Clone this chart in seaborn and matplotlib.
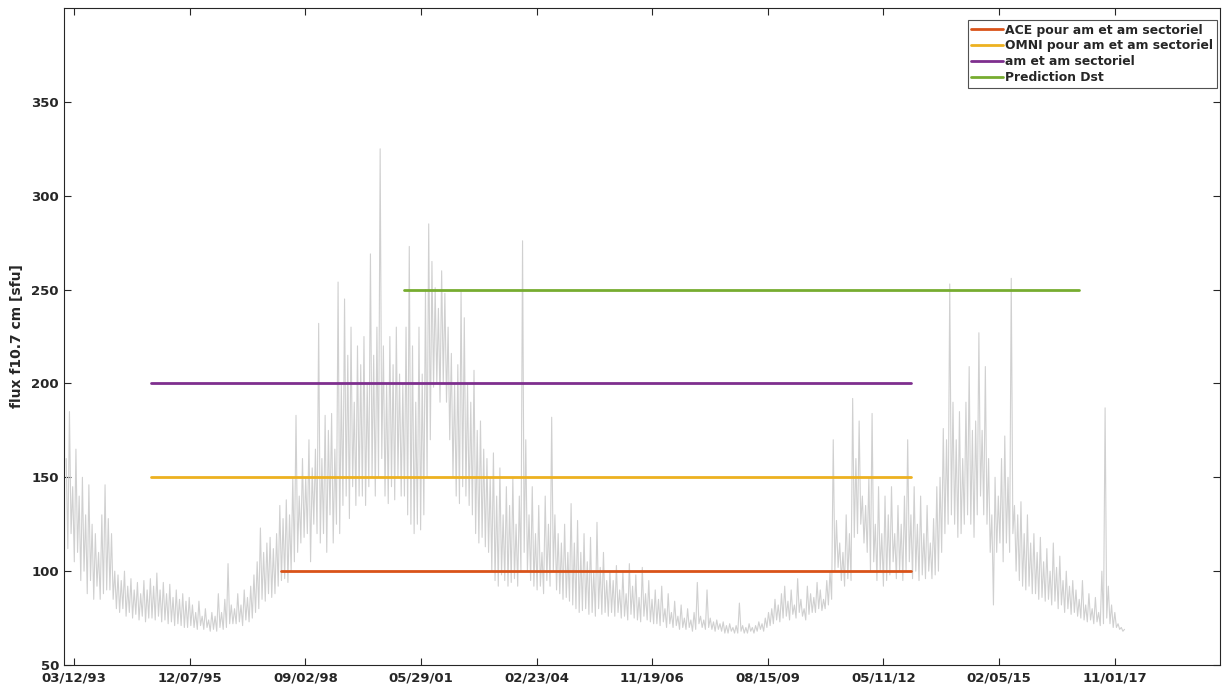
import pandas as pd
import matplotlib
matplotlib.use("Agg")
import matplotlib.pyplot as plt
import seaborn as sns

# === Data ===
# daily f10.7 flux, resampled by eye: one value every 14 days, alternating peaks / troughs
FLUX_START = "1993-01-01"
FLUX_STEP = "14D"
flux = [
    # 1993
    160, 112, 185, 120, 145, 105, 165, 110, 140, 95, 150, 100, 130, 88, 146, 95, 125, 85, 120, 92, 110, 85, 130, 88, 146, 90,
    # 1994
    128, 90, 120, 85, 100, 80, 98, 78, 95, 80, 100, 76, 92, 78, 96, 75, 90, 77, 94, 74, 88, 76, 95, 73, 90, 75,
    # 1995
    96, 75, 92, 74, 99, 76, 90, 73, 94, 74, 88, 72, 93, 73, 86, 71, 90, 72, 85, 71, 88, 70, 84, 70, 86, 71,
    # 1996
    82, 70, 78, 69, 84, 71, 76, 69, 80, 70, 74, 68, 78, 69, 76, 68, 88, 70, 78, 69, 85, 70, 104, 72, 82, 72,
    # 1997
    80, 72, 88, 73, 82, 71, 90, 74, 86, 73, 92, 75, 98, 78, 105, 80, 123, 85, 110, 84, 115, 88, 118, 86, 112, 88,
    # 1998
    120, 92, 135, 95, 128, 96, 138, 94, 130, 100, 150, 105, 183, 110, 140, 115, 160, 118, 150, 120, 170, 105, 155, 125, 165, 120,
    # 1999
    232, 115, 160, 120, 183, 110, 175, 130, 184, 115, 165, 125, 254, 120, 200, 135, 245, 140, 215, 128, 230, 145, 190, 135, 220, 140,
    # 2000
    210, 140, 225, 135, 200, 145, 269, 150, 215, 140, 230, 150, 325, 160, 220, 140, 200, 136, 225, 145, 210, 138, 230, 150, 205, 140,
    # 2001
    200, 140, 230, 130, 273, 125, 220, 120, 190, 125, 230, 122, 205, 130, 250, 150, 285, 170, 265, 198, 251, 200, 240, 190, 260, 200,
    # 2002
    248, 190, 230, 170, 216, 150, 200, 140, 210, 136, 249, 145, 235, 140, 200, 135, 190, 130, 207, 120, 175, 115, 180, 118, 165, 113,
    # 2003
    160, 110, 150, 100, 163, 95, 140, 92, 155, 98, 130, 95, 145, 92, 135, 94, 150, 96, 125, 92, 140, 100, 276, 110, 170, 100,
    # 2004
    130, 95, 145, 92, 120, 90, 135, 92, 110, 88, 140, 95, 125, 92, 182, 100, 130, 90, 120, 88, 115, 85, 125, 86, 110, 84,
    # 2005
    136, 82, 115, 80, 127, 78, 110, 79, 120, 80, 105, 77, 118, 78, 100, 76, 126, 80, 102, 77, 110, 78, 95, 76, 100, 78,
    # 2006
    95, 76, 103, 78, 90, 75, 100, 76, 88, 74, 104, 77, 92, 75, 98, 74, 86, 73, 102, 76, 88, 74, 95, 73, 85, 72,
    # 2007
    90, 72, 85, 71, 92, 73, 80, 70, 88, 72, 78, 70, 84, 71, 76, 69, 82, 70, 75, 69, 80, 70, 74, 68, 78, 69,
    # 2008
    94, 72, 76, 70, 74, 69, 90, 70, 75, 69, 73, 68, 74, 69, 72, 68, 73, 67, 71, 67, 72, 68, 70, 67, 71, 67,
    # 2009
    83, 68, 71, 67, 70, 67, 72, 68, 70, 67, 71, 68, 73, 69, 72, 68, 75, 70, 78, 71, 80, 72, 85, 74, 82, 73,
    # 2010
    88, 75, 92, 76, 84, 74, 90, 77, 82, 75, 96, 78, 85, 76, 80, 74, 92, 77, 88, 78, 86, 78, 94, 80, 90, 79,
    # 2011
    85, 80, 95, 82, 100, 85, 170, 100, 127, 102, 115, 95, 110, 92, 130, 96, 120, 95, 192, 118, 160, 120, 180, 125, 140, 115,
    # 2012
    135, 110, 150, 100, 184, 105, 125, 95, 145, 100, 120, 92, 140, 95, 130, 98, 145, 105, 120, 96, 135, 100, 125, 95, 140, 100,
    # 2013
    170, 105, 130, 96, 145, 100, 125, 95, 140, 98, 120, 96, 135, 100, 115, 96, 128, 98, 145, 100, 150, 110, 176, 120, 170, 125,
    # 2014
    253, 130, 190, 125, 170, 118, 185, 120, 160, 125, 190, 130, 209, 125, 175, 118, 180, 130, 227, 140, 175, 130, 209, 125, 160, 110,
    # 2015
    130, 82, 150, 110, 140, 115, 160, 105, 172, 115, 150, 110, 256, 120, 135, 100, 130, 95, 137, 92, 120, 90, 130, 92, 115, 88,
    # 2016
    120, 88, 110, 85, 118, 86, 105, 84, 112, 85, 100, 82, 115, 84, 102, 80, 108, 82, 95, 78, 100, 80, 92, 77, 95, 78,
    # 2017
    90, 76, 85, 75, 95, 74, 82, 73, 88, 74, 80, 72, 86, 73, 78, 71, 100, 72, 187, 75, 92, 72, 82, 70, 78, 70,
    # 2018
    72, 69, 70, 68, 69,
]

# horizontal coverage lines
series_names = ["ACE pour am et am sectoriel", "OMNI pour am et am sectoriel",
                "am et am sectoriel", "Prediction Dst"]
series_levels = [100, 150, 200, 250]
series_start = ["1998-02-05", "1995-01-01", "1995-01-01", "2001-01-01"]
series_end = ["2013-01-01", "2013-01-01", "2013-01-01", "2017-01-01"]
series_colors = ["#D95319", "#EDB120", "#7E2F8E", "#77AC30"]

tick_labels = ["03/12/93", "12/07/95", "09/02/98", "05/29/01", "02/23/04",
               "11/19/06", "08/15/09", "05/11/12", "02/05/15", "11/01/17"]
y_ticks = [50, 100, 150, 200, 250, 300, 350]

# === Build frames ===
df_flux = pd.DataFrame({
    "date": pd.date_range(FLUX_START, periods=len(flux), freq=FLUX_STEP),
    "flux": flux,
})

rows = []
for name, lvl, s, e in zip(series_names, series_levels, series_start, series_end):
    rows.append({"name": name, "date": pd.Timestamp(s), "level": lvl})
    rows.append({"name": name, "date": pd.Timestamp(e), "level": lvl})
df_lines = pd.DataFrame(rows)

# === Plot ===
sns.set_style("ticks")
plt.rcParams["font.family"] = ["DejaVu Sans"]
plt.rcParams["font.weight"] = "bold"

fig = plt.figure(figsize=(12.26, 6.91), dpi=100)
ax = fig.add_axes([0.0526, 0.0376, 0.9425, 0.9508])

sns.lineplot(data=df_flux, x="date", y="flux", color="#D0D0D0", linewidth=0.8,
             estimator=None, legend=False, ax=ax)
sns.lineplot(data=df_lines, x="date", y="level", hue="name", hue_order=series_names,
             palette=dict(zip(series_names, series_colors)), linewidth=2,
             estimator=None, ax=ax)

ax.set_xlim(pd.Timestamp("1992-12-17"), pd.Timestamp("2020-05-01"))
ax.set_ylim(50, 400)
tick_dates = pd.to_datetime(tick_labels, format="%m/%d/%y")
ax.set_xticks(tick_dates)
ax.set_xticklabels(tick_labels)
ax.set_yticks(y_ticks)

ax.set_xlabel("")
ax.set_ylabel("flux f10.7 cm [sfu]", fontsize=10, fontweight="bold", color="#262626")
ax.yaxis.set_label_coords(-0.035, 0.5)

ax.tick_params(direction="in", length=5, width=0.8, top=True, right=True,
               labelsize=9.5, colors="#262626")
ax.tick_params(axis="x", pad=5)
ax.tick_params(axis="y", pad=4)
for lab in ax.get_xticklabels() + ax.get_yticklabels():
    lab.set_fontweight("bold")
for sp in ax.spines.values():
    sp.set_visible(True)
    sp.set_color("#262626")
    sp.set_linewidth(0.8)

leg = ax.legend(loc="upper right", bbox_to_anchor=(0.9974, 0.9817), borderaxespad=0,
                fontsize=8.9, handlelength=2.6, handletextpad=0.15,
                borderpad=0.3, labelspacing=0.22,
                frameon=True, fancybox=False, edgecolor="#262626")
leg.get_frame().set_linewidth(0.8)
for t in leg.get_texts():
    t.set_fontweight("bold")

fig.savefig("out.png", dpi=100)
